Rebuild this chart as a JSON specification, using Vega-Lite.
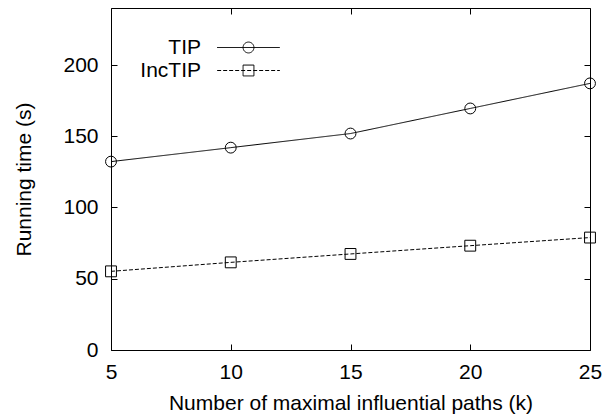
{
  "$schema": "https://vega.github.io/schema/vega-lite/v6.json",
  "width": 479,
  "height": 342,
  "autosize": {"type": "none"},
  "padding": {"left": 111, "top": 8, "right": 15, "bottom": 69},
  "background": "white",
  "data": {
    "values": [
      {"k": 5, "time": 132.2, "series": "TIP"},
      {"k": 10, "time": 142.0, "series": "TIP"},
      {"k": 15, "time": 151.9, "series": "TIP"},
      {"k": 20, "time": 169.5, "series": "TIP"},
      {"k": 25, "time": 187.1, "series": "TIP"},
      {"k": 5, "time": 55.2, "series": "IncTIP"},
      {"k": 10, "time": 61.5, "series": "IncTIP"},
      {"k": 15, "time": 67.4, "series": "IncTIP"},
      {"k": 20, "time": 73.2, "series": "IncTIP"},
      {"k": 25, "time": 78.9, "series": "IncTIP"}
    ]
  },
  "config": {
    "font": "Liberation Sans",
    "view": {"stroke": "black", "strokeWidth": 1},
    "axis": {
      "grid": false,
      "domain": false,
      "tickColor": "black",
      "tickSize": -6,
      "tickWidth": 1,
      "labelFlush": false,
      "labelOverlap": false,
      "labelColor": "black",
      "labelFontSize": 21,
      "labelFont": "Liberation Sans",
      "titleColor": "black",
      "titleFontSize": 21,
      "titleFont": "Liberation Sans",
      "titleFontWeight": "normal"
    },
    "legend": {
      "orient": "none",
      "title": null,
      "padding": 0,
      "rowPadding": 1,
      "labelFontSize": 21,
      "labelFont": "Liberation Sans",
      "labelColor": "black",
      "labelAlign": "right",
      "labelOffset": -58,
      "symbolStrokeColor": "black",
      "symbolStrokeWidth": 1
    }
  },
  "resolve": {"axis": {"x": "independent", "y": "independent"}},
  "layer": [
    {
      "mark": {"type": "line", "color": "black", "strokeWidth": 1},
      "encoding": {
        "x": {
          "field": "k", "type": "quantitative",
          "scale": {"domain": [5, 25], "nice": false, "zero": false},
          "axis": {"orient": "bottom", "values": [5, 10, 15, 20, 25], "title": "Number of maximal influential paths (k)", "labelPadding": 17, "titlePadding": 10}
        },
        "y": {
          "field": "time", "type": "quantitative",
          "scale": {"domain": [0, 240], "nice": false},
          "axis": {"orient": "left", "values": [0, 50, 100, 150, 200], "title": "Running time (s)", "labelPadding": 19, "titlePadding": 28}
        },
        "strokeDash": {
          "field": "series", "type": "nominal",
          "scale": {"domain": ["TIP", "IncTIP"], "range": [[1, 0], [4, 2]]},
          "legend": {
            "symbolType": "M-5.7,0H5.7",
            "symbolSize": 121,
            "legendX": 127,
            "legendY": 29
          }
        }
      }
    },
    {
      "mark": {"type": "point", "filled": false, "color": "black", "strokeWidth": 1, "size": 118, "opacity": 1},
      "encoding": {
        "x": {
          "field": "k", "type": "quantitative",
          "axis": {"orient": "top", "values": [5, 10, 15, 20, 25], "labels": false, "title": null}
        },
        "y": {
          "field": "time", "type": "quantitative",
          "axis": {"orient": "right", "values": [0, 50, 100, 150, 200], "labels": false, "title": null}
        },
        "shape": {
          "field": "series", "type": "nominal",
          "sort": ["TIP", "IncTIP"],
          "scale": {"range": ["circle", "square"]},
          "legend": {
            "symbolSize": 118,
            "symbolFillColor": "transparent",
            "symbolDash": [1, 0],
            "labelOpacity": 0,
            "legendX": 127,
            "legendY": 29
          }
        }
      }
    }
  ]
}
